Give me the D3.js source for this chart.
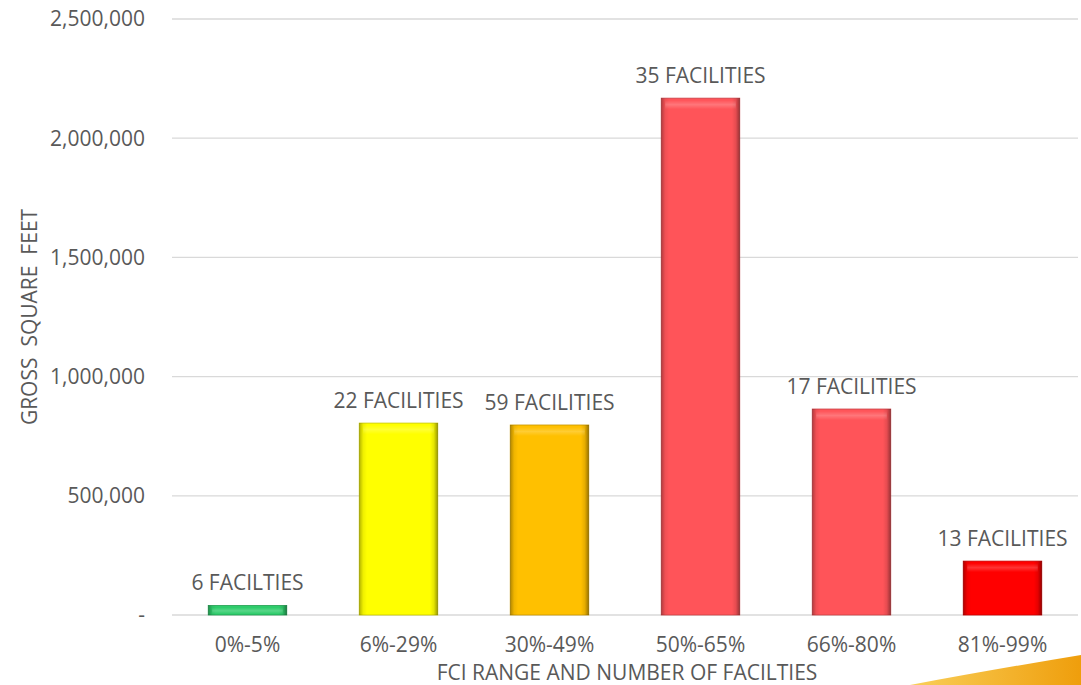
<!DOCTYPE html>
<html>
<head>
<meta charset="utf-8">
<script src="https://cdn.jsdelivr.net/npm/d3@7"></script>
<style>
  body { margin: 0; background: #fff; }
  svg { display: block; font-family: "Open Sans", Lato, sans-serif; }
</style>
</head>
<body>
<svg id="chart" width="1081" height="685"></svg>
<script>
// data
const categories = ["0%-5%", "6%-29%", "30%-49%", "50%-65%", "66%-80%", "81%-99%"];
const grossSqFt = [40000, 805000, 797000, 2168000, 864000, 226000];
const barLabels = ["6 FACILTIES", "22 FACILITIES", "59 FACILITIES", "35 FACILITIES", "17 FACILITIES", "13 FACILITIES"];
const barColors = ["#2ecc6b", "#ffff00", "#ffc000", "#ff5459", "#ff5459", "#ff0000"];
const yTicks = [0, 500000, 1000000, 1500000, 2000000, 2500000];

const svg = d3.select("#chart");
const margin = {top: 19, right: 3, bottom: 70, left: 172};
const W = 1081, H = 685;
const textColor = "#595959";
const fontSize = "21px";

const x = d3.scaleBand()
  .domain(categories)
  .range([margin.left, W - margin.right])
  .paddingInner(0.48)
  .paddingOuter(0.24);

const y = d3.scaleLinear()
  .domain([0, 2500000])
  .range([H - margin.bottom, margin.top]);

const defs = svg.append("defs");

//Orange swoosh in the corner
const swoosh = defs.append("linearGradient")
  .attr("id", "swoosh").attr("x1", "0%").attr("x2", "100%");
swoosh.append("stop").attr("offset", "0%").attr("stop-color", "#f9cf5a");
swoosh.append("stop").attr("offset", "100%").attr("stop-color", "#ef9e0c");
svg.append("path")
  .attr("d", "M910,685 Q990,670 1081,655 L1081,685 Z")
  .attr("fill", "url(#swoosh)");

//Gridlines
svg.append("g")
  .selectAll("line")
  .data(yTicks)
  .join("line")
  .attr("x1", margin.left)
  .attr("x2", W - margin.right)
  .attr("y1", d => y(d))
  .attr("y2", d => y(d))
  .attr("stroke", "#d9d9d9")
  .attr("stroke-width", 1.3);

//Y axis labels
svg.append("g")
  .selectAll("text")
  .data(yTicks)
  .join("text")
  .attr("x", 145)
  .attr("y", d => y(d))
  .attr("dy", "0.35em")
  .attr("text-anchor", "end")
  .attr("fill", textColor)
  .style("font-size", fontSize)
  .text(d => d === 0 ? "-" : d3.format(",")(d));

//Gradients for the bevelled bars
const edge = defs.append("linearGradient").attr("id", "edgeShade").attr("x1", "0%").attr("x2", "100%");
[[0, 0.3], [0.05, 0.06], [0.1, 0], [0.9, 0], [0.95, 0.1], [1, 0.4]].forEach(([o, a]) =>
  edge.append("stop").attr("offset", o).attr("stop-color", "#000").attr("stop-opacity", a));
const topHi = defs.append("linearGradient").attr("id", "topHi").attr("x1", "0%").attr("x2", "0%").attr("y1", "0%").attr("y2", "100%");
[[0, 0], [0.5, 0.2], [1, 0]].forEach(([o, a]) =>
  topHi.append("stop").attr("offset", o).attr("stop-color", "#fff").attr("stop-opacity", a));

//Bars
const bars = svg.append("g")
  .selectAll("g")
  .data(categories.map((c, i) => ({cat: c, value: grossSqFt[i], label: barLabels[i], color: barColors[i]})))
  .join("g");

bars.append("rect")
  .attr("x", d => x(d.cat))
  .attr("y", d => y(d.value))
  .attr("width", x.bandwidth())
  .attr("height", d => y(0) - y(d.value))
  .attr("fill", d => d.color)
  .attr("stroke", d => d3.color(d.color).darker(0.7))
  .attr("stroke-width", 0.8);

bars.append("rect")
  .attr("x", d => x(d.cat))
  .attr("y", d => y(d.value))
  .attr("width", x.bandwidth())
  .attr("height", d => y(0) - y(d.value))
  .attr("fill", "url(#edgeShade)");

//bevel highlight band along the top
bars.append("rect")
  .attr("x", d => x(d.cat) + 4)
  .attr("y", d => y(d.value) + 2)
  .attr("width", x.bandwidth() - 8)
  .attr("height", d => Math.min(9, y(0) - y(d.value) - 3))
  .attr("fill", "url(#topHi)");

//Bar labels
bars.append("text")
  .attr("x", d => x(d.cat) + x.bandwidth() / 2)
  .attr("y", d => y(d.value) - 15)
  .attr("text-anchor", "middle")
  .attr("fill", textColor)
  .style("font-size", fontSize)
  .text(d => d.label);

//Category labels
svg.append("g")
  .selectAll("text")
  .data(categories)
  .join("text")
  .attr("x", d => x(d) + x.bandwidth() / 2)
  .attr("y", y(0) + 37)
  .attr("text-anchor", "middle")
  .attr("fill", textColor)
  .style("font-size", fontSize)
  .text(d => d);

//Axis titles
svg.append("text")
  .attr("x", 627)
  .attr("y", 680)
  .attr("text-anchor", "middle")
  .attr("fill", textColor)
  .style("font-size", fontSize)
  .text("FCI RANGE AND NUMBER OF FACILTIES");

svg.append("text")
  .attr("transform", "translate(37," + y(1250000) + ") rotate(-90)")
  .attr("text-anchor", "middle")
  .attr("fill", textColor)
  .style("font-size", fontSize)
  .style("white-space", "pre")
  .text("GROSS  SQUARE  FEET");
</script>
</body>
</html>
